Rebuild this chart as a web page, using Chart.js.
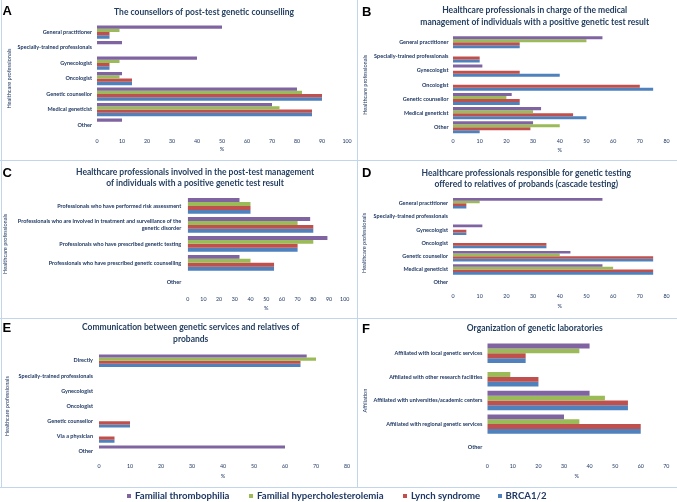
<!DOCTYPE html>
<html><head><meta charset="utf-8">
<script src="https://cdn.jsdelivr.net/npm/chart.js@4.4.1/dist/chart.umd.min.js"></script>
<style>
html,body{margin:0;padding:0;background:#fff;}
#page{position:relative;width:677px;height:502px;overflow:hidden;font-family:Lato,sans-serif;}
canvas{position:absolute;left:0;top:0;}
.ln{position:absolute;background:#C3D5EA;}
.letter{position:absolute;font:bold 13px "Liberation Sans",Arial,sans-serif;color:#000;line-height:13px;}
.item{position:absolute;top:490px;white-space:nowrap;line-height:13px;font:bold 9.6px Lato,sans-serif;color:#1F3864;}
.sw{display:inline-block;width:4px;height:4px;margin-right:4px;vertical-align:middle;position:relative;top:-0.5px;}
</style></head>
<body>
<div id="page">
  <div class="ln" style="left:1px;top:0;width:1px;height:487px"></div>
  <div class="ln" style="left:357px;top:0;width:1px;height:487px"></div>
  <div class="ln" style="left:0;top:160px;width:677px;height:1px"></div>
  <div class="ln" style="left:0;top:318px;width:677px;height:1px"></div>
  <div class="ln" style="left:0;top:487px;width:677px;height:1px"></div>
  <canvas id="cA" width="677" height="502"></canvas>
  <canvas id="cB" width="677" height="502"></canvas>
  <canvas id="cC" width="677" height="502"></canvas>
  <canvas id="cD" width="677" height="502"></canvas>
  <canvas id="cE" width="677" height="502"></canvas>
  <canvas id="cF" width="677" height="502"></canvas>
  <div class="letter" style="left:2.5px;top:3.5px">A</div>
  <div class="letter" style="left:362px;top:4.5px">B</div>
  <div class="letter" style="left:2.5px;top:166.3px">C</div>
  <div class="letter" style="left:362px;top:165.8px">D</div>
  <div class="letter" style="left:2.5px;top:321.3px">E</div>
  <div class="letter" style="left:362px;top:322.3px">F</div>
  <div id="legend"></div>
</div>
<script>
// ---- data ----
const seriesNames = ['Familial thrombophilia','Familial hypercholesterolemia','Lynch syndrome','BRCA1/2'];
const seriesColors = ['#8064A2','#9BBB59','#C0504D','#4F81BD'];

const catsA = ['General practitioner','Specially-trained professionals','Gynecologist','Oncologist','Genetic counsellor','Medical geneticist','Other'];
const thrombA = [50,10,40,10,80,70,10];
const hyperA  = [9,0,9,9,82,73,0];
const lynchA  = [5,0,5,14,90,86,0];
const brcaA   = [5,0,5,14,90,86,0];

const catsB = ['General practitioner','Specially-trained professionals','Gynecologist','Oncologist','Genetic counsellor','Medical geneticist','Other'];
const thrombB = [56,0,11,0,22,33,30];
const hyperB  = [50,0,0,0,20,30,40];
const lynchB  = [25,10,25,70,25,45,29];
const brcaB   = [25,10,40,75,25,50,10];

const catsC = ['Professionals who have performed risk assessment',['Professionals who are involved in treatment and surveillance of the','genetic disorder'],'Professionals who have prescribed genetic testing','Professionals who have prescribed genetic counselling','Other'];
const thrombC = [33,78,89,33,0];
const hyperC  = [40,70,80,40,0];
const lynchC  = [40,80,70,55,0];
const brcaC   = [40,80,70,55,0];

const catsD = ['General practitioner','Specially-trained professionals','Gynecologist','Oncologist','Genetic counsellor','Medical geneticist','Other'];
const thrombD = [56,0,11,0,44,56,0];
const hyperD  = [10,0,0,0,40,60,0];
const lynchD  = [5,0,5,35,75,75,0];
const brcaD   = [5,0,5,35,75,75,0];

const catsE = ['Directly','Specially-trained professionals','Gynecologist','Oncologist','Genetic counsellor','Via a physician','Other'];
const thrombE = [67,0,0,0,0,0,60];
const hyperE  = [70,0,0,0,0,0,0];
const lynchE  = [65,0,0,0,10,5,0];
const brcaE   = [65,0,0,0,10,5,0];

const catsF = ['Affiliated with local genetic services','Affiliated with other research facilities','Affiliated with universities/academic centers','Affiliated with regional genetic services','Other'];
const thrombF = [40,0,40,30,0];
const hyperF  = [36,9,46,36,0];
const lynchF  = [15,20,55,60,0];
const brcaF   = [15,20,55,60,0];

const titleA = ['The counsellors of post-test genetic counselling'];
const titleB = ['Healthcare professionals in charge of the medical','management of individuals with a positive genetic test result'];
const titleC = ['Healthcare professionals involved in the post-test management','of individuals with a positive genetic test result'];
const titleD = ['Healthcare professionals responsible for genetic testing','offered to relatives of probands (cascade testing)'];
const titleE = ['Communication between genetic services and relatives of','probands'];
const titleF = ['Organization of genetic laboratories'];

// ---- styling / layout ----
const NAVY = '#1F3864';
const TITLE_FONT = 'bold 8.5px Lato, sans-serif';
const catFont = {family:'Lato', size:5.5, weight:'bold'};
const tickFont = {family:'Lato', size:5.3};
const axTitleFont = {family:'Lato', size:5.6};

function titlePlugin(lines, x, ys){
  return {
    id:'panelTitle',
    afterDraw(chart){
      const ctx = chart.ctx;
      ctx.save();
      ctx.font = TITLE_FONT; ctx.fillStyle = '#243F60';
      ctx.textAlign = 'center'; ctx.textBaseline = 'middle';
      lines.forEach((t,i)=>ctx.fillText(t, x, ys[i]));
      ctx.restore();
    }
  };
}

function makeChart(id, cats, arrs, g){
  const padLeft = g.yTitleX - 0.6*axTitleFont.size;
  const xBottom = g.pctY + 0.6*axTitleFont.size;
  new Chart(document.getElementById(id), {
    type:'bar',
    data:{
      labels:cats,
      datasets: seriesNames.map((n,i)=>({
        label:n, data:arrs[i], backgroundColor:seriesColors[i],
        borderWidth:0, categoryPercentage:g.cp, barPercentage:1
      }))
    },
    options:{
      indexAxis:'y', responsive:false, animation:false,
      layout:{padding:{left:padLeft, right:677-g.R, top:g.T, bottom:502-xBottom}},
      plugins:{legend:{display:false}, tooltip:{enabled:false}, title:{display:false}},
      scales:{
        x:{
          min:0, max:g.max,
          ticks:{stepSize:10, font:tickFont, color:NAVY, padding:Math.max(0,g.tickY - g.B - 0.6*tickFont.size), maxRotation:0},
          grid:{display:false, drawTicks:false}, border:{display:false},
          title:{display:true, text:'%', padding:0, font:axTitleFont, color:NAVY},
          afterFit(s){ s.height = xBottom - g.B; }
        },
        y:{
          ticks:{font:catFont, color:NAVY, padding:g.lp, autoSkip:false},
          grid:{display:false, drawTicks:false}, border:{display:false},
          title:{display:true, text:g.yTitle, padding:0, font:axTitleFont, color:NAVY},
          afterFit(s){ s.width = g.L - padLeft; }
        }
      }
    },
    plugins:[titlePlugin(g.title, g.tx, g.ty)]
  });
}

makeChart('cA', catsA, [thrombA,hyperA,lynchA,brcaA],
  {L:97, R:347, T:24.3, B:132.8, max:100, tickY:141, pctY:149, yTitleX:9.3, yTitle:'Healthcare professionals', lp:5, cp:0.85, title:titleA, tx:204, ty:[12]});
makeChart('cB', catsB, [thrombB,hyperB,lynchB,brcaB],
  {L:453, R:666.5, T:35.2, B:134.4, max:80, tickY:141.7, pctY:150, yTitleX:364.7, yTitle:'Healthcare professionals', lp:4.5, cp:0.85, title:titleB, tx:534.7, ty:[10,22.3]});
makeChart('cC', catsC, [thrombC,hyperC,lynchC,brcaC],
  {L:187.7, R:344.7, T:196.5, B:291.2, max:100, tickY:299, pctY:307.7, yTitleX:5, yTitle:'Healthcare professionals', lp:6.5, cp:0.83, title:titleC, tx:195, ty:[172.3,183.3]});
makeChart('cD', catsD, [thrombD,hyperD,lynchD,brcaD],
  {L:453, R:666.5, T:196.7, B:289.3, max:80, tickY:296.7, pctY:305.7, yTitleX:364, yTitle:'Healthcare professionals', lp:5, cp:0.8, title:titleD, tx:526.3, ty:[173.3,184.3]});
makeChart('cE', catsE, [thrombE,hyperE,lynchE,brcaE],
  {L:99, R:347, T:353.1, B:459.3, max:80, tickY:466.7, pctY:475.7, yTitleX:6.7, yTitle:'Healthcare professionals', lp:6, cp:0.82, title:titleE, tx:190.7, ty:[327.3,339.3]});
makeChart('cF', catsF, [thrombF,hyperF,lynchF,brcaF],
  {L:487.3, R:666.3, T:341.5, B:459.5, max:70, tickY:466.7, pctY:475.7, yTitleX:365, yTitle:'Affiliation', lp:5, cp:0.82, title:titleF, tx:534.7, ty:[328.3]});

// ---- legend ----
const legendLefts = [127, 249, 403, 497.5];
const legend = document.getElementById('legend');
seriesNames.forEach((n,i)=>{
  const d = document.createElement('div');
  d.className = 'item';
  d.style.left = legendLefts[i] + 'px';
  d.innerHTML = '<span class="sw" style="background:'+seriesColors[i]+'"></span>' + n;
  legend.appendChild(d);
});
</script>
</body></html>
